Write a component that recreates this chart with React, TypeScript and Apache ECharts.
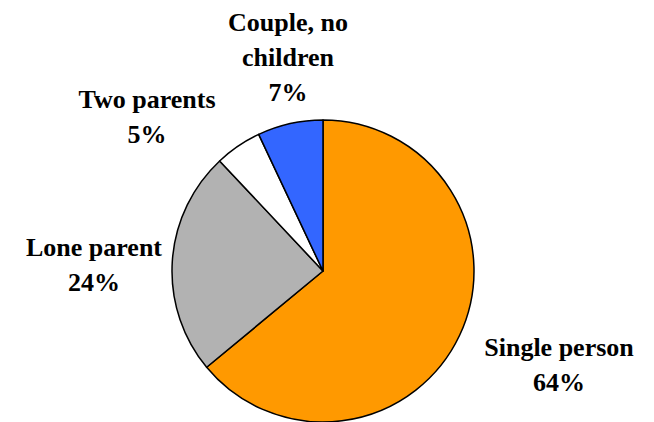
import React, { useEffect, useRef } from "react";
import * as echarts from "echarts";

const categories = ["Single person", "Lone parent", "Two parents", "Couple, no children"];
const labelLines = [["Single person"], ["Lone parent"], ["Two parents"], ["Couple, no", "children"]];
const values = [64, 24, 5, 7];
const colors = ["#FF9900", "#B2B2B2", "#FFFFFF", "#3366FF"];
// label block centres (layout only)
const labelPos: [number, number][] = [
  [559, 365],
  [94, 265],
  [147, 117],
  [288, 57],
];
const LINE_H = 35;

export default function App() {
  const ref = useRef<HTMLDivElement>(null);
  useEffect(() => {
    if (!ref.current) return;
    const chart = echarts.init(ref.current, undefined, { renderer: "svg" });
    const total = values.reduce((a, b) => a + b, 0);
    const texts: any[] = [];
    categories.forEach((c, i) => {
      const lines = [...labelLines[i], `${Math.round((values[i] / total) * 100)}%`];
      const n = lines.length;
      lines.forEach((s, k) => {
        texts.push({
          type: "text",
          x: labelPos[i][0],
          y: labelPos[i][1] + (k - (n - 1) / 2) * LINE_H,
          silent: true,
          style: {
            text: s,
            font: 'bold 26px "Liberation Serif"',
            fill: "#000000",
            align: "center",
            verticalAlign: "middle",
          },
        });
      });
    });
    chart.setOption({
      animation: false,
      backgroundColor: "#FFFFFF",
      series: [
        {
          type: "pie",
          center: [323, 271],
          radius: 151,
          startAngle: 90,
          clockwise: true,
          data: categories.map((c, i) => ({
            name: c,
            value: values[i],
            itemStyle: { color: colors[i] },
          })),
          itemStyle: { borderColor: "#000000", borderWidth: 1.5 },
          label: { show: false },
          labelLine: { show: false },
          emphasis: { disabled: true },
        },
      ],
      graphic: texts,
    });
    return () => chart.dispose();
  }, []);
  return (
    <div
      ref={ref}
      style={{ position: "fixed", left: 0, top: 0, width: 654, height: 422, background: "#fff" }}
    />
  );
}
